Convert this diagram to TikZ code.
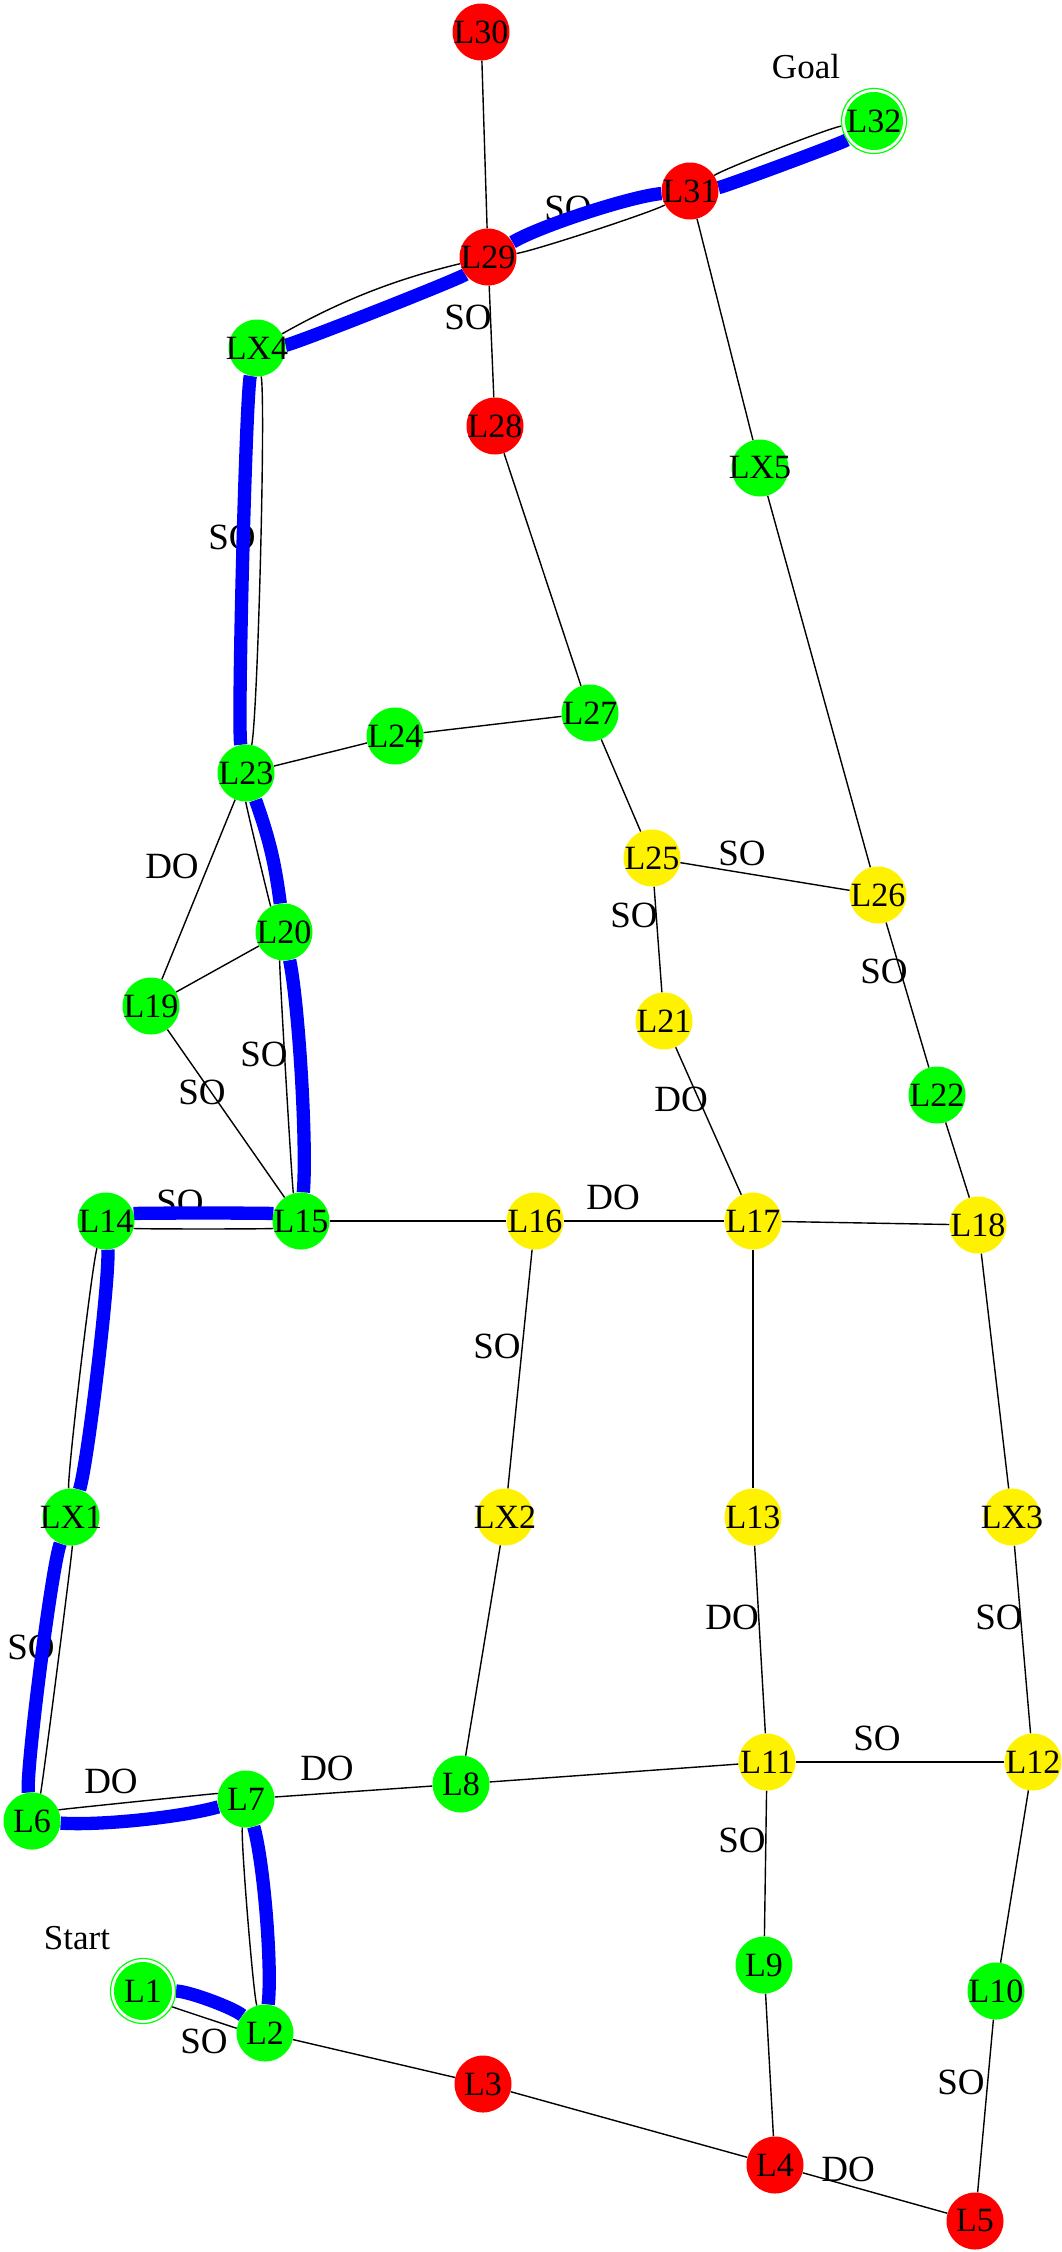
\documentclass[tikz,border=0pt]{standalone}
\usepackage{fontspec}
\setmainfont{Liberation Serif}
\pgfdeclarelayer{background}
\pgfsetlayers{background,main}
\newcommand\fsz{\fontsize{34pt}{40pt}\selectfont}
\newcommand\esz{\fontsize{37pt}{42pt}\selectfont}
\newcommand\gsz{\fontsize{35pt}{40pt}\selectfont}
\newcommand\ntxt[1]{\makebox[0pt][c]{#1}}
\tikzset{
  vert/.style={circle, inner sep=0pt, minimum size=57pt, font=\fsz},
  vred/.style={vert, fill=red},
  vgreen/.style={vert, fill=green},
  vyellow/.style={vert, fill=yellow},
  vring/.style={circle, inner sep=0pt, minimum size=65pt, draw=green, line width=1.2pt, fill=white, font=\fsz,
    path picture={\fill[green] (path picture bounding box.center) circle (29pt);}},
  plain/.style={line width=1.4pt, black},
  route/.style={line width=13.3pt, blue},
  elab/.style={font=\esz, inner sep=0pt},
  glab/.style={font=\gsz, inner sep=0pt}
}
\begin{document}
\begin{tikzpicture}[x=1pt,y=-1pt]
\useasboundingbox (0,0) rectangle (1062,2252);
% nodes
\node[vred]    (L30) at (481,32)   {\ntxt{L30}};
\node[vring]   (L32) at (874,121)  {\ntxt{L32}};
\node[vred]    (L31) at (690,191)  {\ntxt{L31}};
\node[vred]    (L29) at (488,257)  {\ntxt{L29}};
\node[vgreen]  (LX4) at (257,348)  {\ntxt{LX4}};
\node[vred]    (L28) at (495,426)  {\ntxt{L28}};
\node[vgreen]  (LX5) at (760,468)  {\ntxt{LX5}};
\node[vgreen]  (L27) at (590,713)  {\ntxt{L27}};
\node[vgreen]  (L24) at (395,736)  {\ntxt{L24}};
\node[vgreen]  (L23) at (246,773)  {\ntxt{L23}};
\node[vyellow] (L25) at (652,858)  {\ntxt{L25}};
\node[vyellow] (L26) at (878,895)  {\ntxt{L26}};
\node[vgreen]  (L20) at (284,932)  {\ntxt{L20}};
\node[vgreen]  (L19) at (151,1006) {\ntxt{L19}};
\node[vyellow] (L21) at (664,1021) {\ntxt{L21}};
\node[vgreen]  (L22) at (937,1095) {\ntxt{L22}};
\node[vgreen]  (L14) at (106,1221) {\ntxt{L14}};
\node[vgreen]  (L15) at (301,1221) {\ntxt{L15}};
\node[vyellow] (L16) at (535,1221) {\ntxt{L16}};
\node[vyellow] (L17) at (753,1221) {\ntxt{L17}};
\node[vyellow] (L18) at (978,1225) {\ntxt{L18}};
\node[vgreen]  (LX1) at (71,1517)  {\ntxt{LX1}};
\node[vyellow] (LX2) at (505,1517) {\ntxt{LX2}};
\node[vyellow] (L13) at (753,1517) {\ntxt{L13}};
\node[vyellow] (LX3) at (1012,1517) {\ntxt{LX3}};
\node[vyellow] (L12) at (1033,1762) {\ntxt{L12}};
\node[vyellow] (L11) at (767,1762) {\ntxt{L11}};
\node[vgreen]  (L8)  at (461,1784) {\ntxt{L8}};
\node[vgreen]  (L7)  at (246,1799) {\ntxt{L7}};
\node[vgreen]  (L6)  at (32,1821)  {\ntxt{L6}};
\node[vgreen]  (L9)  at (764,1965) {\ntxt{L9}};
\node[vgreen]  (L10) at (996,1991) {\ntxt{L10}};
\node[vring]   (L1)  at (143,1991) {\ntxt{L1}};
\node[vgreen]  (L2)  at (265,2033) {\ntxt{L2}};
\node[vred]    (L3)  at (483,2084) {\ntxt{L3}};
\node[vred]    (L4)  at (775,2165) {\ntxt{L4}};
\node[vred]    (L5)  at (975,2221) {\ntxt{L5}};
\begin{pgfonlayer}{background}
% free labels
\node[glab] (goal)  at (806,67)   {Goal};
\node[glab] (start) at (77,1938)  {Start};
% edge labels
\node[elab] (e1)  at (568,208)  {SO};
\node[elab] (e2)  at (468,317)  {SO};
\node[elab] (e3)  at (232,537)  {SO};
\node[elab] (e4)  at (172,866)  {DO};
\node[elab] (e5)  at (742,853)  {SO};
\node[elab] (e6)  at (634,915)  {SO};
\node[elab] (e7)  at (884,971)  {SO};
\node[elab] (e8)  at (264,1054) {SO};
\node[elab] (e9)  at (202,1092) {SO};
\node[elab] (e10) at (681,1099) {DO};
\node[elab] (e11) at (180,1202) {SO};
\node[elab] (e12) at (613,1197) {DO};
\node[elab] (e13) at (497,1346) {SO};
\node[elab] (e14) at (732,1617) {DO};
\node[elab] (e15) at (999,1617) {SO};
\node[elab] (e16) at (31,1647)  {SO};
\node[elab] (e17) at (111,1781) {DO};
\node[elab] (e18) at (327,1768) {DO};
\node[elab] (e19) at (877,1738) {SO};
\node[elab] (e20) at (742,1840) {SO};
\node[elab] (e21) at (204,2041) {SO};
\node[elab] (e22) at (848,2169) {DO};
\node[elab] (e23) at (961,2082) {SO};
% plain edges
\draw[plain] (L30) -- (L29);
\draw[plain] (L29) -- (L28);
\draw[plain] (L31) -- (LX5);
\draw[plain] (L28) -- (L27);
\draw[plain] (LX5) -- (L26);
\draw[plain] (L23) -- (L24);
\draw[plain] (L24) -- (L27);
\draw[plain] (L27) -- (L25);
\draw[plain] (L25) -- (L26);
\draw[plain] (L25) -- (L21);
\draw[plain] (L26) -- (L22);
\draw[plain] (L23) -- (L19);
\draw[plain] (L19) -- (L20);
\draw[plain] (L19) -- (L15);
\draw[plain] (L21) -- (L17);
\draw[plain] (L22) -- (L18);
\draw[plain] (L15) -- (L16);
\draw[plain] (L16) -- (L17);
\draw[plain] (L17) -- (L18);
\draw[plain] (L16) -- (LX2);
\draw[plain] (L17) -- (L13);
\draw[plain] (L18) -- (LX3);
\draw[plain] (LX2) -- (L8);
\draw[plain] (L13) -- (L11);
\draw[plain] (LX3) -- (L12);
\draw[plain] (L7) -- (L8);
\draw[plain] (L8) -- (L11);
\draw[plain] (L11) -- (L12);
\draw[plain] (L11) -- (L9);
\draw[plain] (L12) -- (L10);
\draw[plain] (L2) -- (L3);
\draw[plain] (L3) -- (L4);
\draw[plain] (L9) -- (L4);
\draw[plain] (L4) -- (L5);
\draw[plain] (L10) -- (L5);
% paired plain edges
\draw[plain] (L31) to[bend left=12, looseness=0.24] (L32);
\draw[plain] (L29) to[bend right=11, looseness=0.25] (L31);
\draw[plain] (LX4) to[bend left=8, looseness=0.9] (L29);
\draw[plain] (LX4) to[bend left=10, looseness=0.21] (L23);
\draw[plain] (L23) to[bend right=14, looseness=0.05] (L20);
\draw[plain] (L20) to[bend right=12, looseness=0.05] (L15);
\draw[plain] (L14) to[bend right=15, looseness=0.05] (L15);
\draw[plain] (L14) to[bend right=11.5, looseness=0.16] (LX1);
\draw[plain] (LX1) to[bend left=10, looseness=0.05] (L6);
\draw[plain] (L6) to[bend left=17, looseness=0.02] (L7);
\draw[plain] (L7) to[bend right=12, looseness=0.18] (L2);
\draw[plain] (L1) to[bend right=9.5, looseness=0.02] (L2);
% route
\draw[route] (L31) to[bend right=14, looseness=0.1] (L32);
\draw[route] (L29) to[bend left=13, looseness=0.5] (L31);
\draw[route] (LX4) to[bend right=16, looseness=0.1] (L29);
\draw[route] (LX4) to[bend right=12, looseness=0.13] (L23);
\draw[route] (L23) to[bend left=6, looseness=1] (L20);
\draw[route] (L20) to[bend left=8, looseness=0.52] (L15);
\draw[route] (L14) to[bend left=15, looseness=0.05] (L15);
\draw[route] (L14) to[bend left=10.5, looseness=0.3] (LX1);
\draw[route] (LX1) to[bend right=14.6, looseness=0.22] (L6);
\draw[route] (L6) to[bend right=10, looseness=0.62] (L7);
\draw[route] (L7) to[bend left=11, looseness=0.54] (L2);
\draw[route] (L1) to[bend left=19, looseness=0.45] (L2);
\end{pgfonlayer}
\end{tikzpicture}
\end{document}
